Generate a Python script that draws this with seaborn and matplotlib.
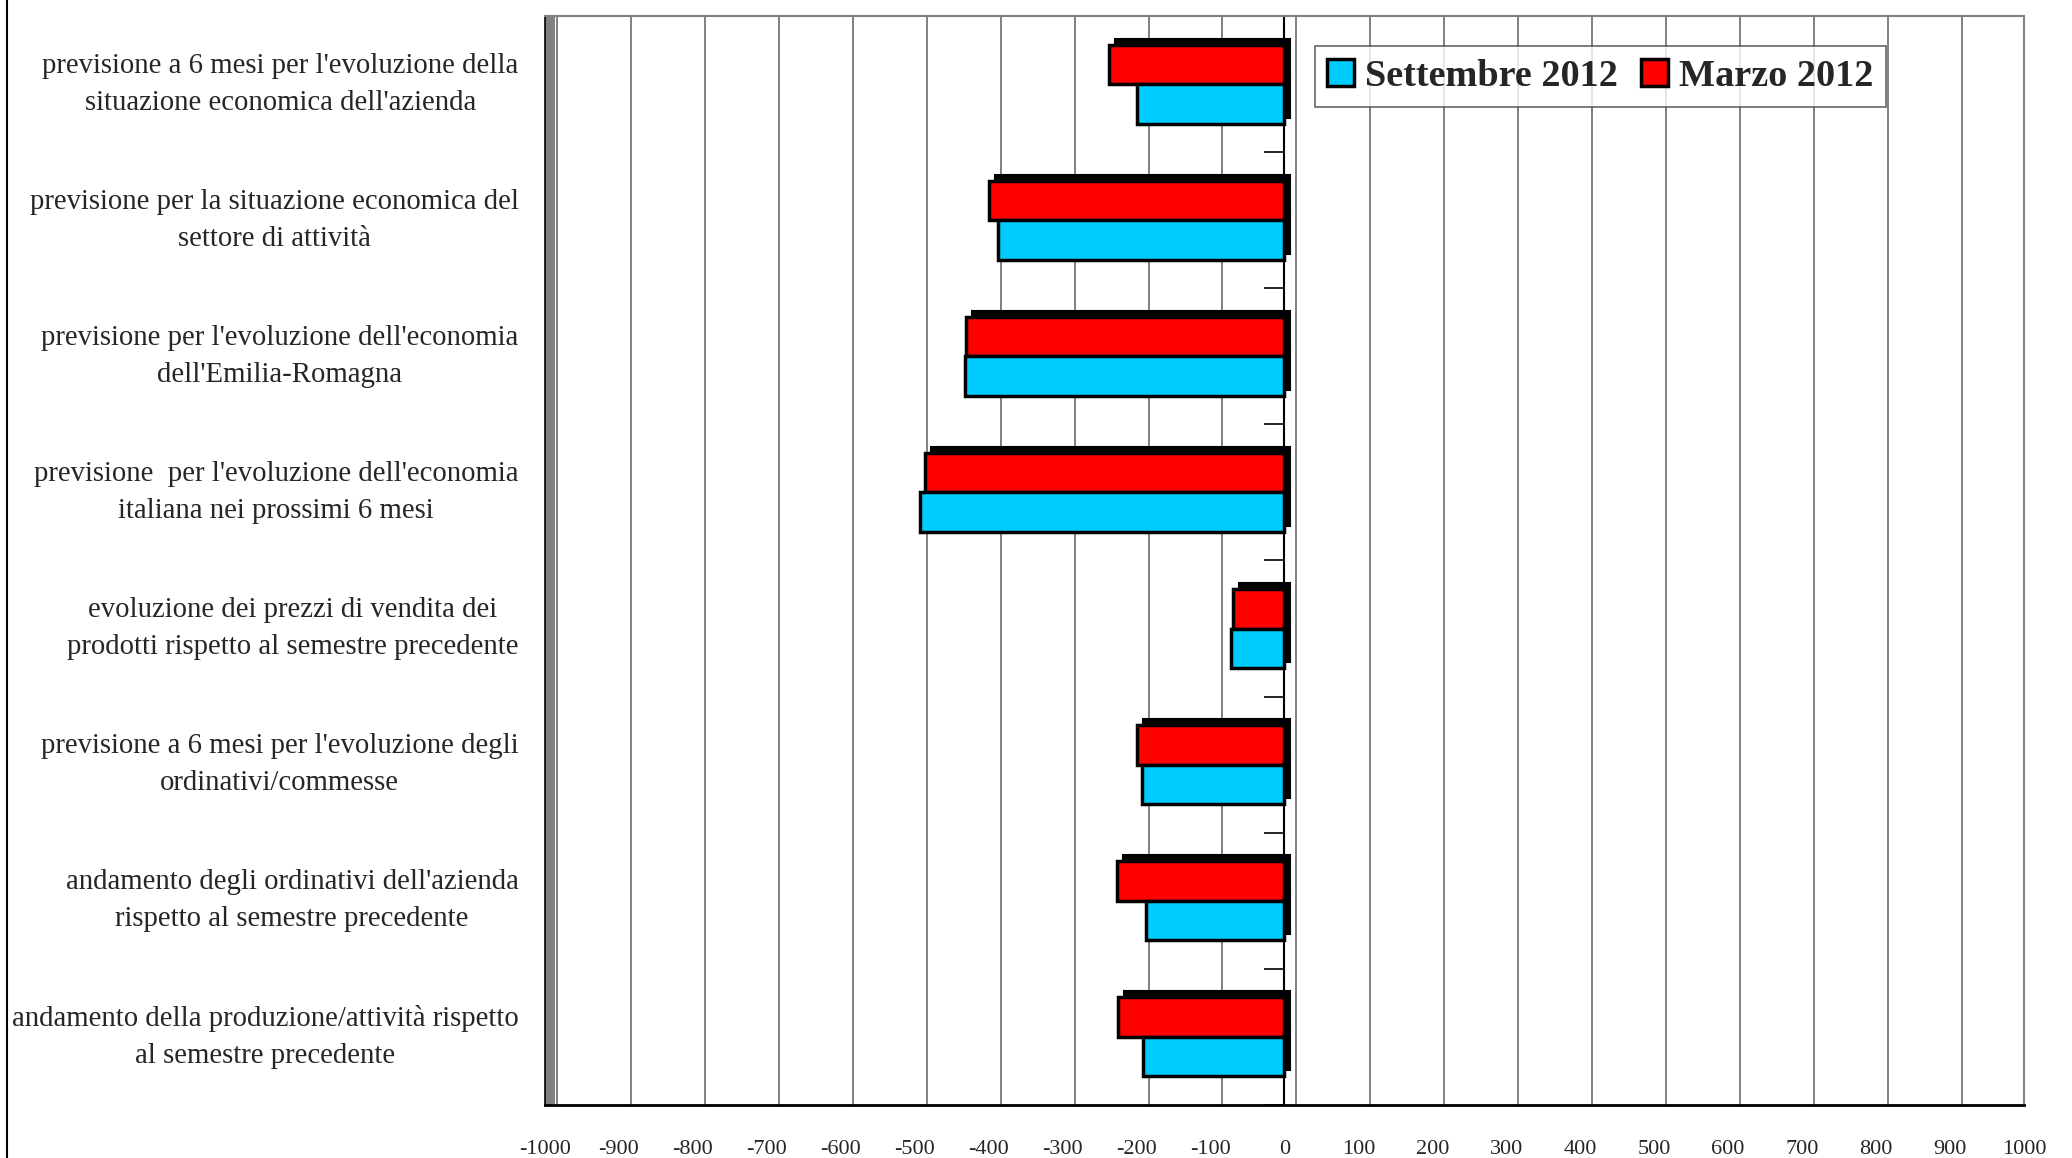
import matplotlib
matplotlib.use("Agg")
import matplotlib.pyplot as plt
import matplotlib.transforms as mtransforms
from matplotlib.lines import Line2D
from matplotlib.patches import Rectangle
import seaborn as sns
import pandas as pd


categorie = [
    "previsione a 6 mesi per l'evoluzione della\nsituazione economica dell'azienda",
    "previsione per la situazione economica del\nsettore di attività",
    "previsione per l'evoluzione dell'economia\ndell'Emilia-Romagna",
    "previsione  per l'evoluzione dell'economia\nitaliana nei prossimi 6 mesi",
    "evoluzione dei prezzi di vendita dei\nprodotti rispetto al semestre precedente",
    "previsione a 6 mesi per l'evoluzione degli\nordinativi/commesse",
    "andamento degli ordinativi dell'azienda\nrispetto al semestre precedente",
    "andamento della produzione/attività rispetto\nal semestre precedente",
]
settembre_2012 = [-200, -388, -432, -493, -72, -192, -187, -191]
marzo_2012     = [-237, -399, -431, -486, -69, -200, -226, -225]
serie  = ["Settembre 2012", "Marzo 2012"]
colori = {"Settembre 2012": "#00CCFF", "Marzo 2012": "#FF0000"}
x_ticks = list(range(-1000, 1001, 100))

df = pd.DataFrame({
    "categoria": categorie * 2,
    "valore": settembre_2012 + marzo_2012,
    "serie": [serie[0]] * len(categorie) + [serie[1]] * len(categorie),
})

sns.set_style("white")
plt.rcParams["font.family"] = ["Liberation Serif", "DejaVu Serif"]
plt.rcParams["axes.unicode_minus"] = False

fig = plt.figure(figsize=(20.72, 11.58), dpi=100)
ax = fig.add_axes([0.263, 0.0458, 0.7138, 0.9404])

sns.barplot(data=df, y="categoria", x="valore", hue="serie",
            hue_order=["Marzo 2012", "Settembre 2012"], palette=colori,
            orient="h", width=0.58, errorbar=None, saturation=1,
            edgecolor="black", linewidth=2.5, ax=ax, zorder=3)

# profondità 3D delle barre: ombra nera spostata in alto a destra
depth = mtransforms.ScaledTranslation(6 / 100, 6 / 100, fig.dpi_scale_trans)
for p in list(ax.patches):
    ombra = Rectangle(p.get_xy(), p.get_width(), p.get_height(),
                      transform=ax.transData + depth, facecolor="black",
                      edgecolor="black", lw=1.5, zorder=2.5)
    ax.add_patch(ombra)

ax.set_xlim(-1000, 1000)
ax.set_ylim(len(categorie) - 0.5, -0.5)
ax.set_xlabel("")
ax.set_ylabel("")

# assi e tick
ax.set_xticks(x_ticks)
ax.set_xticklabels([str(v) for v in x_ticks])
ax.tick_params(axis="x", length=22, width=1.2, color="black", pad=3, labelsize=16)
ax.set_yticks(range(len(categorie)))
ax.set_yticks([i - 0.5 for i in range(len(categorie) + 1)], minor=True)
ax.tick_params(axis="y", which="major", length=0, pad=19, labelsize=20.7)
ax.tick_params(axis="y", which="minor", length=21, width=1.2, color="black")
for lab in ax.get_yticklabels():
    lab.set_multialignment("center")
    lab.set_linespacing(1.55)
    lab.set_va("center")

# griglia sul fondo (spostata come nel 3D)
ax.xaxis.grid(True, color="#808080", lw=1.4, zorder=0)
offset = mtransforms.ScaledTranslation(12 / 100, 0, fig.dpi_scale_trans)
for gl in ax.get_xgridlines():
    gl.set_transform(gl.get_transform() + offset)

ax.axvline(0, color="black", lw=1.5, zorder=2)
ax.hlines([i - 0.5 for i in range(len(categorie) + 1)], -28, 0, color="black", lw=1.2, zorder=2)

for side in ["top", "right"]:
    ax.spines[side].set_color("#808080")
    ax.spines[side].set_linewidth(1.5)
ax.spines["bottom"].set_color("black")
ax.spines["bottom"].set_linewidth(2)
ax.spines["left"].set_color("black")
ax.spines["left"].set_linewidth(1.2)
ax.add_patch(Rectangle((0, 0), 0.0068, 1, transform=ax.transAxes,
                       facecolor="#808080", edgecolor="none", clip_on=False, zorder=1))

# legenda: Settembre prima
handles, labels = ax.get_legend_handles_labels()
leg = ax.legend(handles[::-1], labels[::-1], ncol=2, loc="upper right",
                bbox_to_anchor=(0.907, 0.972), prop=dict(weight="bold", size=27.5),
                frameon=True, fancybox=False, edgecolor="#404040",
                handlelength=0.7, handleheight=0.7, handletextpad=0.3,
                columnspacing=0.6, borderpad=0.33, borderaxespad=0)
leg.get_frame().set_linewidth(1.2)

fig.add_artist(Line2D([7 / 2072] * 2, [0, 1], color="black", lw=1.5, transform=fig.transFigure))

fig.savefig("out.png", dpi=100)
